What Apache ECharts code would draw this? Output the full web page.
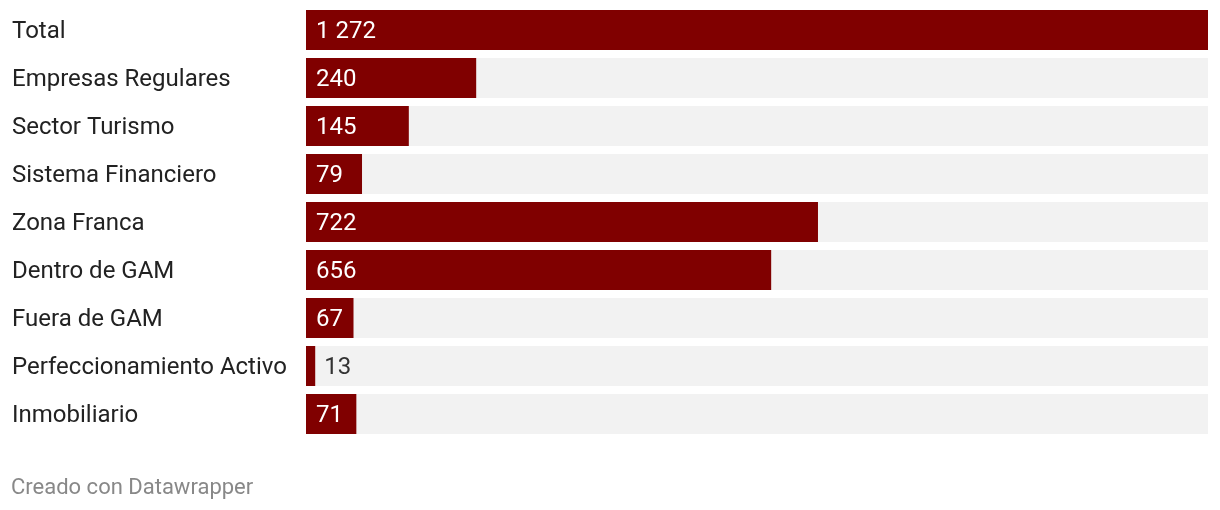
<!DOCTYPE html>
<html><head><meta charset="utf-8">
<script src="https://cdn.jsdelivr.net/npm/echarts@6/dist/echarts.min.js"></script>
<style>html,body{margin:0;padding:0;background:#fff}#c{width:1220px;height:510px}</style>
</head><body><div id="c"></div>
<script>
const categories = ["Total","Empresas Regulares","Sector Turismo","Sistema Financiero","Zona Franca","Dentro de GAM","Fuera de GAM","Perfeccionamiento Activo","Inmobiliario"];
const values = [1272,240,145,79,722,656,67,13,71];
const footer = "Creado con Datawrapper";

const fmt = v => String(v).replace(/\B(?=(\d{3})+(?!\d))/g, ' ');
const chart = echarts.init(document.getElementById('c'), null, {renderer:'canvas'});
chart.setOption({
  animation:false,
  grid:{left:306,right:12,top:6,height:432,containLabel:false},
  xAxis:{type:'value',min:0,max:1272,show:false},
  yAxis:{type:'category',data:categories,inverse:true,
    axisLine:{show:false},axisTick:{show:false},splitLine:{show:false},
    axisLabel:{align:'left',margin:294,color:'#222',fontFamily:'Roboto',fontSize:24,
      formatter:v=>'{a|'+v+'}',
      rich:{a:{color:'#222',fontFamily:'Roboto',fontSize:24,padding:[4,0,0,0]}}}},
  series:[{type:'bar',barWidth:40,
    showBackground:true,backgroundStyle:{color:'#f2f2f2'},
    itemStyle:{color:'#800000'},
    data:values.map(v=>({value:v,label: v<40 ? {position:'right',distance:9,color:'#333'} : {}})),
    label:{show:true,position:'insideLeft',distance:10,offset:[0,2],color:'#fff',fontFamily:'Roboto',fontSize:24,
      formatter:p=>fmt(p.value)}
  }],
  graphic:[{type:'text',left:11,top:477,style:{text:footer,fill:'#888',font:'22px Roboto'}}]
});
</script></body></html>
